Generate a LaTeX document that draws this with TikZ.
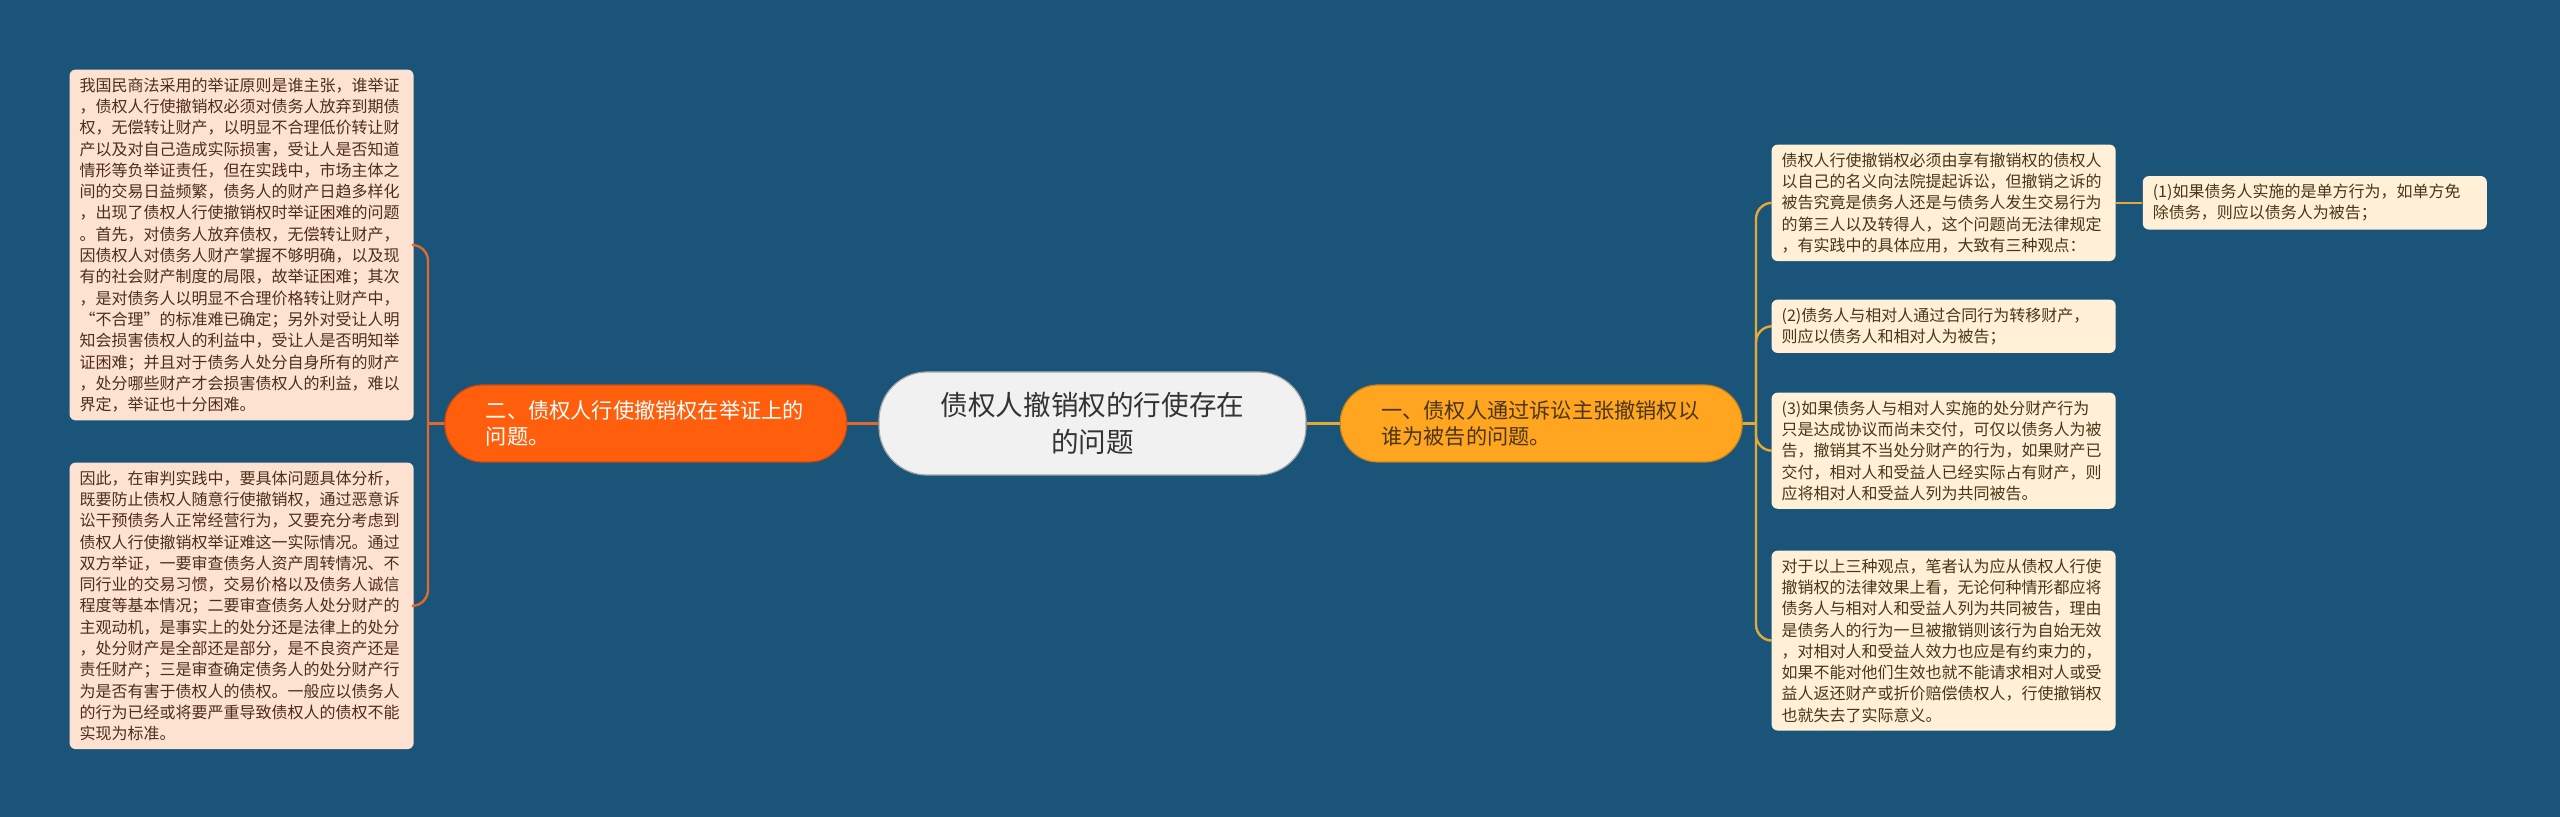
\documentclass[tikz,border=0pt]{standalone}
\usepackage{fontspec}
\setmainfont{Noto Sans CJK SC}
\usetikzlibrary{positioning}

\definecolor{bgblue}{HTML}{1B5479}
\definecolor{centrefill}{HTML}{F1F1F1}
\definecolor{leftfill}{HTML}{FF5E0C}
\definecolor{leftline}{HTML}{E2692E}
\definecolor{leftbox}{HTML}{FDE2D2}
\definecolor{lefttext}{HTML}{4E2E1A}
\definecolor{rightfill}{HTML}{FFA51F}
\definecolor{rightline}{HTML}{E3AA3A}
\definecolor{rightbox}{HTML}{FFF0D7}
\definecolor{righttext}{HTML}{4A3616}

\begin{document}
\begin{tikzpicture}[x = 0.5pt, y = -0.5pt, % one unit = one pixel, y going down
                semithick, % line style
                centre/.style = {draw = gray!70, fill = centrefill, rounded corners = 24pt,
                    minimum width = 213.5pt, minimum height = 51.5pt, align = center,
                    text = black!80, font = \fontsize{13.8pt}{18.8pt}\selectfont},
                branch/.style = {rounded corners = 19pt, minimum height = 38.5pt,
                    text width = 160pt, inner xsep = 20.5pt, align = left,
                    font = \fontsize{10.6pt}{13pt}\selectfont},
                leftbranch/.style = {branch, draw = leftfill!80!black, fill = leftfill, text = white},
                rightbranch/.style = {branch, draw = rightfill!80!black, fill = rightfill, text = righttext},
                leaf/.style = {rounded corners = 3pt, text width = 162pt, inner xsep = 5pt,
                    inner ysep = 4pt, align = left, anchor = north west,
                    font = \fontsize{8pt}{10.65pt}\selectfont},
                leftleaf/.style = {leaf, fill = leftbox, text = lefttext},
                rightleaf/.style = {leaf, fill = rightbox, text = righttext},
                leftlink/.style = {draw = leftline, line width = 1.2pt, rounded corners = 8pt},
                rightlink/.style = {draw = rightline, line width = 1.2pt, rounded corners = 8pt}
            ]

            \fill[bgblue] (0,0) rectangle (2560,817);
            \useasboundingbox (0,0) rectangle (2560,817);

            % main topic and the two branches
            \node[centre] (topic) at (1092.5,423.5) {债权人撤销权的行使存在\\的问题};
            \node[leftbranch] (evidence) [left = 15.5pt of topic]
                {二、债权人行使撤销权在举证上的\\问题。};
            \node[rightbranch] (defendant) [right = 16.5pt of topic]
                {一、债权人通过诉讼主张撤销权以\\谁为被告的问题。};

            % left leaves
            \node[leftleaf] (principle) at (69,69) {我国民商法采用的举证原则是谁主张，谁举证\\
                ，债权人行使撤销权必须对债务人放弃到期债\\
                权，无偿转让财产，以明显不合理低价转让财\\
                产以及对自己造成实际损害，受让人是否知道\\
                情形等负举证责任，但在实践中，市场主体之\\
                间的交易日益频繁，债务人的财产日趋多样化\\
                ，出现了债权人行使撤销权时举证困难的问题\\
                。首先，对债务人放弃债权，无偿转让财产，\\
                因债权人对债务人财产掌握不够明确，以及现\\
                有的社会财产制度的局限，故举证困难；其次\\
                ，是对债务人以明显不合理价格转让财产中，\\
                “不合理”的标准难已确定；另外对受让人明\\
                知会损害债权人的利益中，受让人是否明知举\\
                证困难；并且对于债务人处分自身所有的财产\\
                ，处分哪些财产才会损害债权人的利益，难以\\
                界定，举证也十分困难。};
            \node[leftleaf] (practice) at (69,462) {因此，在审判实践中，要具体问题具体分析，\\
                既要防止债权人随意行使撤销权，通过恶意诉\\
                讼干预债务人正常经营行为，又要充分考虑到\\
                债权人行使撤销权举证难这一实际情况。通过\\
                双方举证，一要审查债务人资产周转情况、不\\
                同行业的交易习惯，交易价格以及债务人诚信\\
                程度等基本情况；二要审查债务人处分财产的\\
                主观动机，是事实上的处分还是法律上的处分\\
                ，处分财产是全部还是部分，是不良资产还是\\
                责任财产；三是审查确定债务人的处分财产行\\
                为是否有害于债权人的债权。一般应以债务人\\
                的行为已经或将要严重导致债权人的债权不能\\
                实现为标准。};

            % right leaves
            \node[rightleaf] (views) at (1771,144) {债权人行使撤销权必须由享有撤销权的债权人\\
                以自己的名义向法院提起诉讼，但撤销之诉的\\
                被告究竟是债务人还是与债务人发生交易行为\\
                的第三人以及转得人，这个问题尚无法律规定\\
                ，有实践中的具体应用，大致有三种观点：};
            \node[rightleaf, anchor = west] (viewone) [right = 13pt of views]
                {(1)如果债务人实施的是单方行为，如单方免\\除债务，则应以债务人为被告；};
            \node[rightleaf] (viewtwo) at (1771,299)
                {(2)债务人与相对人通过合同行为转移财产，\\则应以债务人和相对人为被告；};
            \node[rightleaf] (viewthree) at (1771,392) {(3)如果债务人与相对人实施的处分财产行为\\
                只是达成协议而尚未交付，可仅以债务人为被\\
                告，撤销其不当处分财产的行为，如果财产已\\
                交付，相对人和受益人已经实际占有财产，则\\
                应将相对人和受益人列为共同被告。};
            \node[rightleaf] (opinion) at (1771,550) {对于以上三种观点，笔者认为应从债权人行使\\
                撤销权的法律效果上看，无论何种情形都应将\\
                债务人与相对人和受益人列为共同被告，理由\\
                是债务人的行为一旦被撤销则该行为自始无效\\
                ，对相对人和受益人效力也应是有约束力的，\\
                如果不能对他们生效也就不能请求相对人或受\\
                益人返还财产或折价赔偿债权人，行使撤销权\\
                也就失去了实际意义。};

            % links
            \path[leftlink] (topic) -- (evidence);
            \path[rightlink] (topic) -- (defendant);
            \coordinate (lj) at (428,423.5);
            \coordinate (rj) at (1756,423.5);
            \path[leftlink] (evidence.west) -- (lj);
            \path[leftlink] (lj) |- (principle.east);
            \path[leftlink] (lj) |- (practice.east);
            \path[rightlink] (defendant.east) -- (rj);
            \path[rightlink] (rj) |- (views.west);
            \path[rightlink] (rj) |- (viewtwo.west);
            \path[rightlink] (rj) |- (viewthree.west);
            \path[rightlink] (rj) |- (opinion.west);
            \path[rightlink] (views.east) -- (viewone.west);
\end{tikzpicture}
\end{document}
